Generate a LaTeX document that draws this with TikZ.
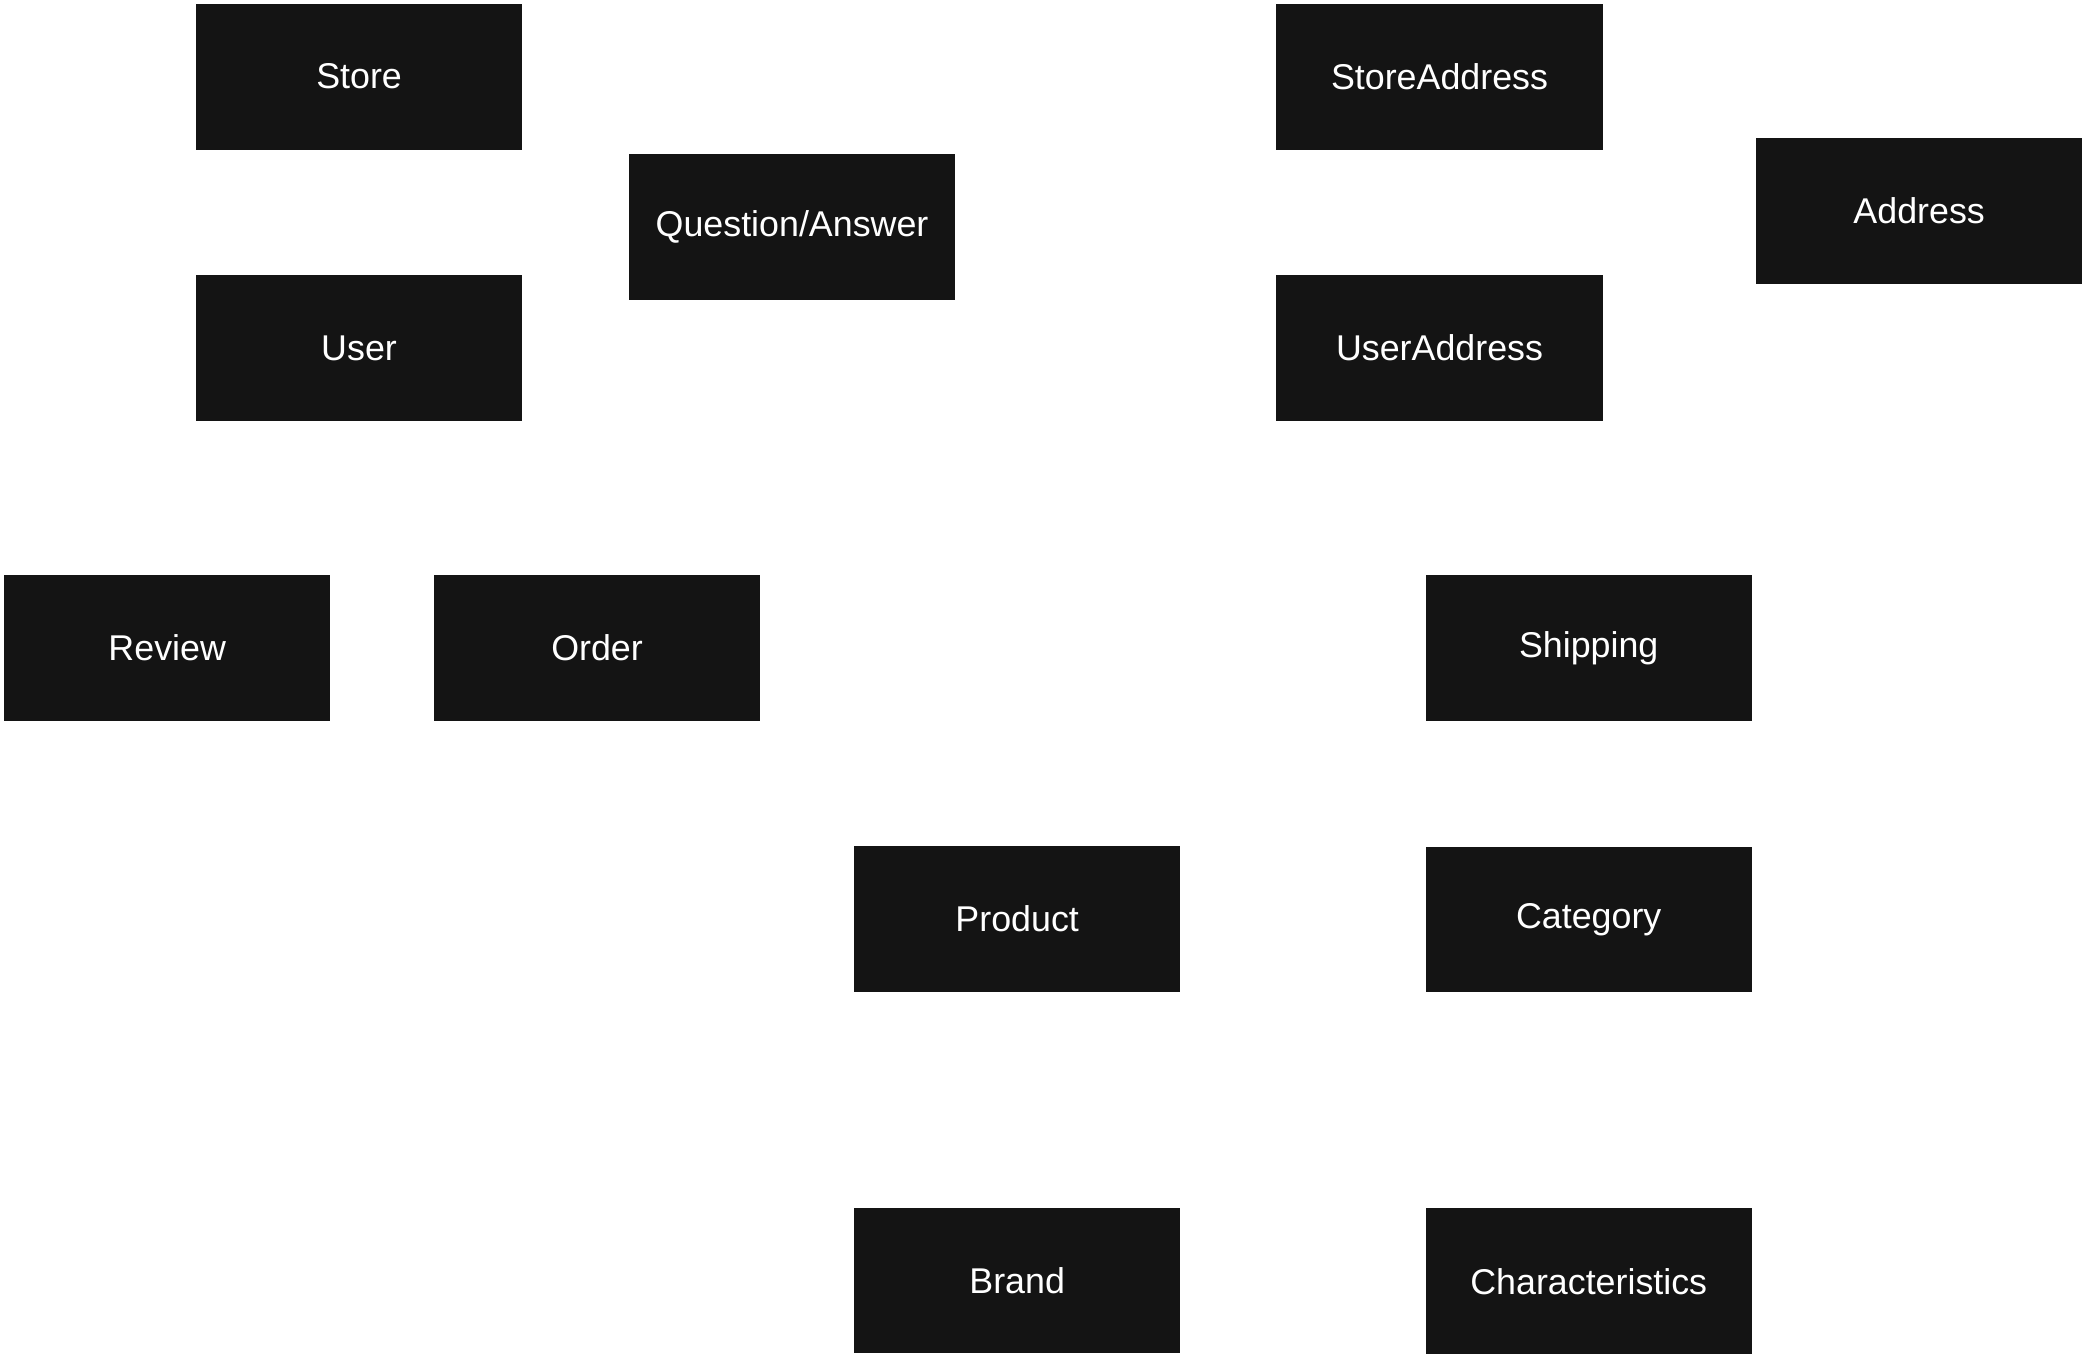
\documentclass[tikz,border=0pt]{standalone}
\usepackage{fontspec}
\setmainfont{Liberation Sans}
\usepackage{xcolor}
\usetikzlibrary{positioning}
\definecolor{boxfill}{RGB}{20,20,20}

\begin{document}
\begin{tikzpicture}[
  x=0.02cm, y=-0.02cm,
  every node/.style={rectangle, align=center, minimum width=4.9cm, minimum height=2.19cm, inner sep=0pt},
  entity/.style={fill=boxfill, text=white, font=\fontsize{15.3}{18}\selectfont}
]
\useasboundingbox (0,0) rectangle (1565,1016);

% Nodes
\node[entity] at (269.5,57.5) (store) {Store};
\node[entity, below=1.87cm of store] (user) {User};
\node[entity] at (594.5,170.5) (question) {Question/Answer};

\node[entity] at (1080.5,57.5) (store_address) {StoreAddress};
\node[entity, below=1.87cm of store_address] (user_address) {UserAddress};
\node[entity] at (1440.5,158.5) (address) {Address};

\node[entity] at (125.5,486.5) (review) {Review};
\node[entity, right=1.54cm of review] (order) {Order};
\node[entity] at (1192.5,486.5) (shipping) {Shipping};

\node[entity] at (763.5,689.5) (product) {Product};
\node[entity, below=1.87cm of shipping] (category) {Category};
\node[entity, below=3.23cm of product] (brand) {Brand};
\node[entity, below=3.23cm of category] (characteristics) {Characteristics};

\end{tikzpicture}
\end{document}
